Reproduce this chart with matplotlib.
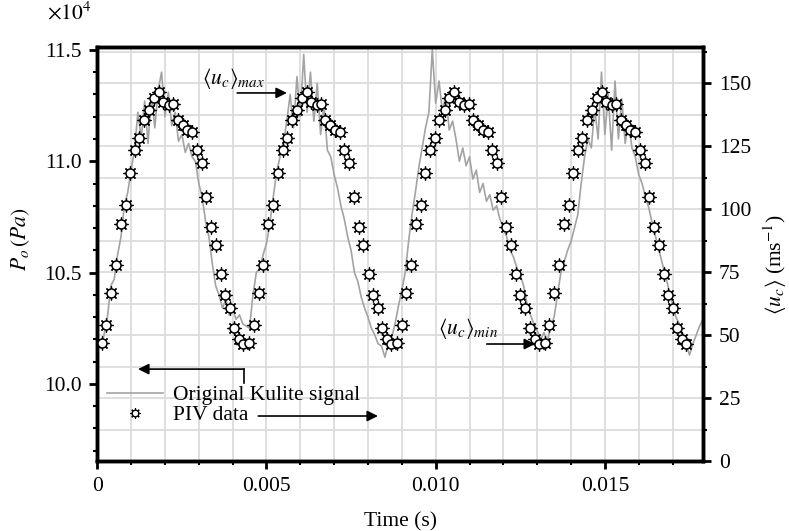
import matplotlib
matplotlib.use('Agg')
import matplotlib.pyplot as plt
import matplotlib.transforms as mtransforms
import numpy as np
from matplotlib.lines import Line2D
from matplotlib.ticker import MultipleLocator, FuncFormatter, FormatStrFormatter

plt.rcParams['font.family'] = ['Liberation Serif', 'DejaVu Serif']
plt.rcParams['mathtext.fontset'] = 'stix'
plt.rcParams['font.size'] = 15.5

# Kulite total pressure signal, P_o in units of 1e4 Pa, sampled every 0.1 ms
kulite_p = [
  10.18, 10.16, 10.22, 10.30, 10.44, 10.47, 10.58, 10.66, 10.80, 10.86,
  10.96, 11.05, 11.22, 11.10, 11.27, 11.08, 11.30, 11.15, 11.32, 11.40,
  11.20, 11.31, 11.16, 11.22, 11.09, 11.12, 11.04, 11.08, 11.02, 11.00,
  10.90, 10.84, 10.73, 10.66, 10.54, 10.44, 10.40, 10.34, 10.38, 10.31,
  10.34, 10.29, 10.31, 10.27, 10.26, 10.25, 10.40, 10.50, 10.52, 10.58,
  10.63, 10.72, 10.84, 10.95, 11.02, 11.08, 11.18, 11.30, 11.15, 11.38,
  11.20, 11.48, 11.22, 11.40, 11.18, 11.35, 11.12, 11.25, 11.05, 11.02,
  10.94, 10.88, 10.80, 10.74, 10.66, 10.60, 10.50, 10.46, 10.39, 10.34,
  10.30, 10.25, 10.22, 10.18, 10.17, 10.12, 10.18, 10.21, 10.27, 10.35,
  10.42, 10.50, 10.64, 10.76, 10.86, 10.97, 11.06, 11.15, 11.22, 11.50,
  11.26, 11.36, 11.22, 11.30, 11.14, 11.18, 11.10, 11.00, 11.06, 10.98,
  11.02, 10.92, 10.96, 10.86, 10.90, 10.82, 10.85, 10.78, 10.80, 10.74,
  10.70, 10.66, 10.60, 10.57, 10.52, 10.49, 10.44, 10.36, 10.31, 10.27,
  10.24, 10.20, 10.23, 10.19, 10.26, 10.30, 10.40, 10.50, 10.55, 10.60,
  10.64, 10.70, 10.76, 10.90, 11.02, 11.10, 11.06, 11.24, 11.10, 11.40,
  11.12, 11.30, 11.05, 11.36, 11.10, 11.28, 11.08, 11.18, 11.06, 11.02,
  10.94, 10.90, 10.84, 10.79, 10.72, 10.66, 10.60, 10.54, 10.48, 10.42,
  10.36, 10.30, 10.27, 10.22, 10.18, 10.13, 10.18, 10.22, 10.26, 10.29,
]
kulite_dt = 1e-4
kulite_t = np.arange(len(kulite_p)) * kulite_dt

# phase-averaged PIV convection velocity, one cycle (time offset in ms, u in m/s)
piv_phase_ms = [
  0.000, 0.136, 0.275, 0.414, 0.562, 0.710, 0.837, 0.985, 1.113, 1.252,
  1.408, 1.548, 1.695, 1.823, 1.991, 2.119, 2.249, 2.397, 2.533, 2.681,
  2.811, 2.959, 3.086, 3.234, 3.373, 3.521, 3.648, 3.796, 3.923, 4.071,
  4.190,
]
piv_u = [
  46.8, 53.9, 66.7, 78.0, 94.3, 101.8, 114.5, 123.6, 128.4, 135.6,
  139.6, 144.3, 146.6, 142.6, 141.5, 141.7, 135.6, 133.7, 131.7, 130.6,
  123.6, 118.5, 104.8, 92.8, 86.0, 74.3, 66.1, 60.8, 53.0, 48.4,
  46.4,
]
# start time of each plotted cycle (ms)
cycle_start_ms = [0.130, 4.494, 8.858, 13.222]

piv_t = np.concatenate([(s + np.array(piv_phase_ms)) * 1e-3 for s in cycle_start_ms])
piv_uu = np.tile(piv_u, len(cycle_start_ms))

# figure / axes
fig = plt.figure(figsize=(7.89, 5.31), dpi=100)
ax = fig.add_axes([0.1233, 0.1318, 0.7677, 0.7797])
ax2 = ax.twinx()

grid_col = '#dcdcdc'

ax.set_xlim(0, 0.0179)
ax.set_ylim(9.654, 11.513)
ax2.set_ylim(0, 164.5)

# grid: vertical from x minor ticks, horizontal from right axis minor ticks
ax.xaxis.set_major_locator(MultipleLocator(0.005))
ax.xaxis.set_minor_locator(MultipleLocator(0.001))
ax.grid(which='both', axis='x', color=grid_col, lw=1.3)
ax.set_axisbelow(True)
blend = mtransforms.blended_transform_factory(ax.transAxes, ax2.transData)
for v in np.arange(12.5, 164, 12.5):
  ax.plot([0, 1], [v, v], transform=blend, color=grid_col, lw=1.3, zorder=0.5)

# signals
ax.plot(kulite_t, kulite_p, color='#a3a3a3', lw=1.2, zorder=2)
ax2.plot(piv_t, piv_uu, ls='none', marker=(8, 2, 0), ms=10, mec='k', mew=0.9, zorder=3)
ax2.plot(piv_t, piv_uu, ls='none', marker='o', ms=6.5, mfc='white', mec='k', mew=1.1, zorder=4)

# ticks
ax.yaxis.set_major_locator(MultipleLocator(0.5))
ax.yaxis.set_minor_locator(MultipleLocator(0.1))
ax.yaxis.set_major_formatter(FormatStrFormatter('%.1f'))
ax.xaxis.set_major_formatter(FuncFormatter(lambda v, p: '0' if abs(v) < 1e-9 else f'{v:.3f}'))
ax2.yaxis.set_major_locator(MultipleLocator(25))
ax2.yaxis.set_minor_locator(MultipleLocator(12.5))

for a in (ax, ax2):
  for s in a.spines.values():
    s.set_linewidth(2.5)
  a.tick_params(which='major', direction='out', length=5.5, width=2, pad=6, labelsize=15.5)
  a.tick_params(which='minor', direction='out', length=3, width=1.5)
ax.tick_params(axis='y', which='both', right=False)
ax.tick_params(axis='x', which='both', top=False)

# labels
ax.set_xlabel('Time (s)', fontsize=15.5)
ax.xaxis.set_label_coords(0.5, -0.123)
ax.set_ylabel(r'$P_o\,(Pa)$', fontsize=15.5)
ax.yaxis.set_label_coords(-0.108, 0.535)
ax2.set_ylabel(r'$\langle u_c\rangle$ (ms$^{-1}$)', fontsize=15.5)
ax2.yaxis.set_label_coords(1.097, 0.475)
fig.text(69 / 789, 1 - 13 / 531, r'$\times 10^4$', ha='center', va='center', fontsize=15.5)

# legend
h_line = Line2D([], [], color='#a3a3a3', lw=1.2)
h_star = Line2D([], [], ls='none', marker=(8, 2, 0), ms=7.5, mec='k', mew=0.8)
h_circ = Line2D([], [], ls='none', marker='o', ms=4.8, mfc='white', mec='k', mew=1.0)
ax.legend([h_line, (h_star, h_circ)], ['Original Kulite signal', 'PIV data'],
          loc='upper left', bbox_to_anchor=(0.016, 0.183), frameon=False,
          borderpad=0, borderaxespad=0, handlelength=2.6, handletextpad=0.45,
          labelspacing=0.0, fontsize=15.5)

# arrows
arr = dict(arrowstyle='-|>', color='k', lw=1.2, mutation_scale=16, shrinkA=0, shrinkB=0)
ax.plot([0.2422, 0.2422], [0.188, 0.222], transform=ax.transAxes, color='k', lw=1.2)
ax.annotate('', xy=(0.0673, 0.222), xytext=(0.2422, 0.222), xycoords='axes fraction', arrowprops=arr)
ax.annotate('', xy=(0.4634, 0.1087), xytext=(0.2658, 0.1087), xycoords='axes fraction', arrowprops=arr)
ax.annotate('', xy=(0.313, 0.889), xytext=(0.231, 0.889), xycoords='axes fraction', arrowprops=arr)
ax.annotate('', xy=(0.7227, 0.2826), xytext=(0.643, 0.2826), xycoords='axes fraction', arrowprops=arr)
ax.text(0.173, 0.911, r'$\langle u_c\rangle_{max}$', transform=ax.transAxes, fontsize=15.5, va='baseline')
ax.text(0.562, 0.307, r'$\langle u_c\rangle_{min}$', transform=ax.transAxes, fontsize=15.5, va='baseline')

fig.savefig('out.png', dpi=100)
